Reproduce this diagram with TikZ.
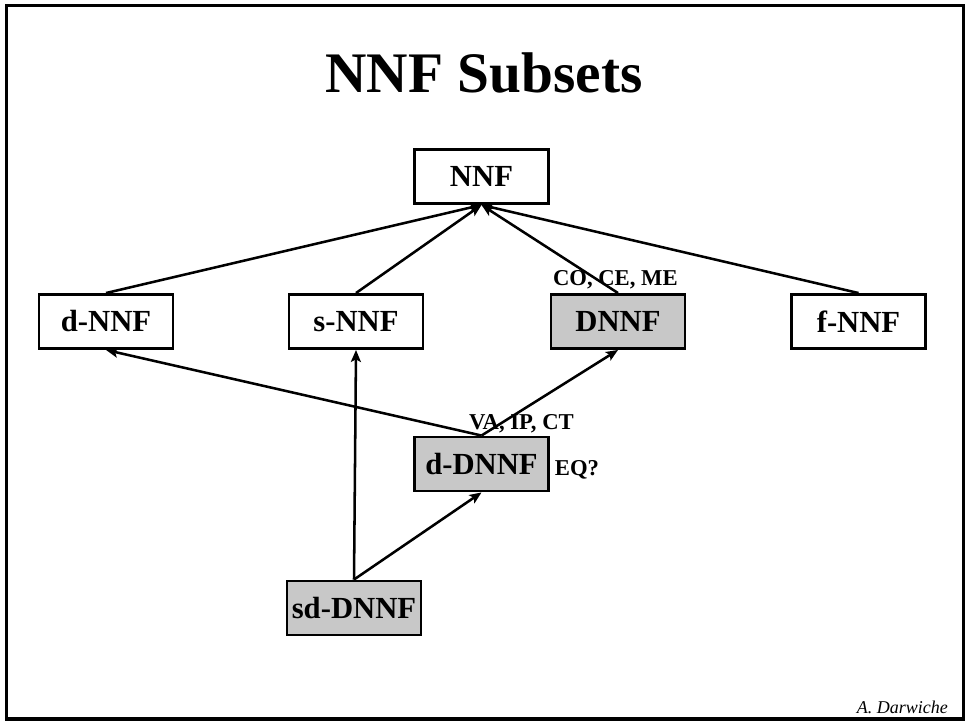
\documentclass[tikz,border=0pt]{standalone}
\usepackage{fontspec}
\setmainfont{Liberation Serif}
\usetikzlibrary{arrows.meta, positioning}
\definecolor{boxGray}{RGB}{200,200,200}

\begin{document}
\begin{tikzpicture}[
      x=0.75pt, y=-0.75pt,
      nnfbox/.style = {
        draw, line width=2.2pt, fill=white,
        minimum width=100.5pt, minimum height=40.5pt, inner sep=0pt,
        font=\fontsize{23}{27}\selectfont\bfseries
      },
      shaded/.style = {fill=boxGray},
      arrow/.style  = {-{Stealth[length=9pt, width=7.5pt, inset=2pt]}, line width=1.9pt},
      tag/.style    = {inner sep=1pt, font=\fontsize{17}{20}\selectfont\bfseries},
    ]
    \useasboundingbox (0,0) rectangle (966,723);
    %% -- Frame and title -------------------------------------------
    \draw[line width=2.5pt] (6.5,5.5) rectangle (963.5,719);
    \node (title) [anchor=base, font=\fontsize{43}{50}\selectfont\bfseries]
      at (484,93) {NNF Subsets};
    %% -- Boxes -----------------------------------------------------
    \node (nnf)   [nnfbox] at (481.5,176.5) {NNF};
    \node (dnnf)  [nnfbox] at (106,321.5)   {d-NNF};
    \node (snnf)  [nnfbox] at (356,321.5)   {s-NNF};
    \node (DNNF)  [nnfbox, shaded] at (618,321.5) {DNNF};
    \node (fnnf)  [nnfbox] at (858.5,321.5) {f-NNF};
    \node (ddnnf) [nnfbox, shaded] at (481.5,464) {d-DNNF};
    \node (sddnnf)[nnfbox, shaded] at (354,608) {sd-DNNF};
    %% -- Queries ---------------------------------------------------
    \node (coce) [tag, above=2pt of DNNF, xshift=-2pt] {CO, CE, ME};
    \node (vaip) [tag, above=1pt of ddnnf, xshift=30pt] {VA, IP, CT};
    \node (eq)   [tag, right=2.5pt of ddnnf, yshift=-4.5pt] {EQ?};
    %% -- Arrows ----------------------------------------------------
    \draw[arrow] (dnnf.north) -- (nnf.south);
    \draw[arrow] (snnf.north) -- (nnf.south);
    \draw[arrow] (DNNF.north) -- (nnf.south);
    \draw[arrow] (fnnf.north) -- (nnf.south);
    \draw[arrow] (ddnnf.north) -- (dnnf.south);
    \draw[arrow] (ddnnf.north) -- (DNNF.south);
    \draw[arrow] (sddnnf.north) -- (snnf.south);
    \draw[arrow] (sddnnf.north) -- (ddnnf.south);
    %% -- Signature -------------------------------------------------
    \node (author) [anchor=base east, inner sep=0pt,
                    font=\fontsize{13.5}{16}\selectfont\itshape]
      at (948,713) {A. Darwiche};
  \end{tikzpicture}
\end{document}
